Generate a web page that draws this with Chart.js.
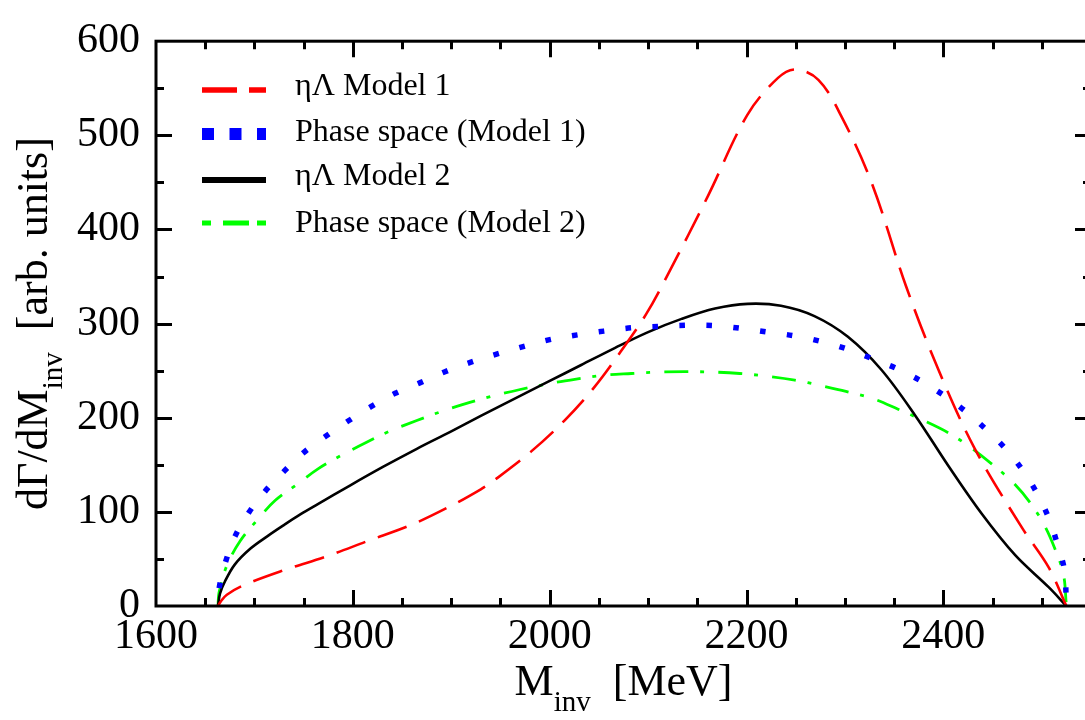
<!DOCTYPE html>
<html><head><meta charset="utf-8">
<style>
html,body{margin:0;padding:0;overflow:hidden;background:#fff;width:1085px;height:720px}
#wrap{width:1100px;height:720px;position:relative}
canvas{display:block}
</style>
<script src="https://cdn.jsdelivr.net/npm/chart.js"></script>
</head><body><div id="wrap"><canvas id="c" width="1100" height="720"></canvas></div>
<script>
// ---- data ----
const xTicks = [1600, 1800, 2000, 2200, 2400];
const yTicks = [0, 100, 200, 300, 400, 500, 600];
const xRange = [1600, 2550];
const yRange = [0, 600];
const minorStepX = 50, minorStepY = 50;
const seriesLabels = ['ηΛ Model 1', 'Phase space (Model 1)', 'ηΛ Model 2', 'Phase space (Model 2)'];
const xTitleMain = 'M', xTitleSub = 'inv', xTitleUnit = '[MeV]';
const yTitleMain = 'dΓ/dM', yTitleSub = 'inv', yTitleUnit = '[arb. units]';

const model1Mass   = [1663,1666,1672,1689,1730,1774,1815,1859,1899,1930,1943,1981,2015,2045,2072,2098,2120,2161,2201,2232,2250,2273,2296,2327,2362,2395,2432,2480,2507,2525];
const model1Values = [0,5,12,22,38,53,69,86,106,124,133,164,197,232,270,310,352,436,522,561,570,559,521,450,340,251,167,83,41,0];

const phase1Mass   = [1663,1664.5,1671,1680.5,1694.5,1711,1730,1750,1772,1796,1818,1843,1868,1893,1920,1946,1973,2000,2028,2055,2083,2111,2139,2166,2194,2221,2249,2276,2303,2328,2353,2379,2403,2424,2445,2465,2482,2496,2508,2516,2523,2525];
const phase1Values = [0,21,48,74.5,99.6,122,143,163,180,197,211.5,226,237,248.6,259,267.5,275.6,283,288,292,295.5,297,298.3,298,295,291,287,281,272.7,262.6,252,238,222,205.6,186,165,142,118,91,65,38,0];

const model2Mass   = [1663,1665,1670,1680,1696,1713,1730,1747,1764,1797,1831,1865,1899,1930,1964,1998,2032,2066,2100,2134,2168,2201,2235,2269,2303,2337,2371,2405,2439,2473,2507,2525];
const model2Values = [0,13,26,44,61,74,86,97.5,108,128,148,167,185,202,220,238,256,274,291,305,316,321,319,308,286,251,203,149,98,54,20,0];

const phase2Mass   = [1663,1664,1672,1685.5,1702.5,1721,1743,1765,1790,1814,1838,1865,1891,1918,1942,1970,1998,2027,2054,2083,2110,2137,2166,2193,2222,2249,2276,2301,2329,2354,2380,2405,2427,2449,2470,2488,2503,2514,2522,2525];
const phase2Values = [0,14,43,69,91,112,129,146,161,174,186,197,207,216,223,230,236,241,245,247,248.5,249,248.5,247,244,240,234,228,220,209,197,184,169,151,132,110,85,59,34,0];

// ---- helpers ----
const toPts = (xs, ys) => xs.map((v, i) => ({x: v, y: ys[i]}));
const SERIF = '"Liberation Serif", "DejaVu Serif", serif';

const datasets = [
  {label: seriesLabels[0], data: toPts(model1Mass, model1Values), borderColor: '#ff0000', borderWidth: 2.6, borderDash: [31, 13]},
  {label: seriesLabels[1], data: toPts(phase1Mass, phase1Values), borderColor: '#0000ff', borderWidth: 5.5, borderDash: [5.5, 21.5], borderDashOffset: 9, borderCapStyle: 'butt'},
  {label: seriesLabels[2], data: toPts(model2Mass, model2Values), borderColor: '#000000', borderWidth: 2.6},
  {label: seriesLabels[3], data: toPts(phase2Mass, phase2Values), borderColor: '#00ff00', borderWidth: 2.8, borderDash: [24, 12, 4, 14]}
].map(d => Object.assign({pointRadius: 0, fill: false, cubicInterpolationMode: 'default', tension: 0.35}, d));

// legend sample styles (gnuplot-like key)
const legendStyles = [
  {color: '#ff0000', width: 5.5, dash: [35, 12], cap: 'butt'},
  {color: '#0000ff', width: 12, dash: [12, 15.5], cap: 'butt'},
  {color: '#000000', width: 6, dash: [], cap: 'butt'},
  {color: '#00ff00', width: 5, dash: [9, 12, 26, 8], cap: 'butt'}
];

const framePlugin = {
  id: 'frame',
  afterDraw(chart) {
    const {ctx, chartArea: a, scales: {x, y}} = chart;
    ctx.save();
    ctx.strokeStyle = '#000';
    ctx.lineWidth = 3;
    ctx.setLineDash([]);
    ctx.strokeRect(a.left, a.top, a.right - a.left, a.bottom - a.top);
    ctx.beginPath();
    for (let v = xRange[0] + minorStepX; v < xRange[1]; v += minorStepX) {
      const px = Math.round(x.getPixelForValue(v)) + 0.5;
      const len = xTicks.includes(v) ? 16 : 8;
      ctx.moveTo(px, a.bottom); ctx.lineTo(px, a.bottom - len);
      ctx.moveTo(px, a.top); ctx.lineTo(px, a.top + len);
    }
    for (let v = yRange[0] + minorStepY; v < yRange[1]; v += minorStepY) {
      const py = Math.round(y.getPixelForValue(v)) + 0.5;
      const len = yTicks.includes(v) ? 16 : 8;
      ctx.moveTo(a.left, py); ctx.lineTo(a.left + len, py);
      ctx.moveTo(a.right, py); ctx.lineTo(a.right - len, py);
    }
    ctx.stroke();

    // key
    const rowsY = [90, 134, 180, 223];
    const baseY = [95, 140.5, 185, 231.5];
    const x0 = 202, x1 = 266, tx = 295;
    chart.data.datasets.forEach((ds, i) => {
      const st = legendStyles[i];
      ctx.beginPath();
      ctx.strokeStyle = st.color;
      ctx.lineWidth = st.width;
      ctx.lineCap = st.cap;
      ctx.setLineDash(st.dash);
      ctx.lineDashOffset = 0;
      ctx.moveTo(x0, rowsY[i]); ctx.lineTo(x1, rowsY[i]);
      ctx.stroke();
      ctx.setLineDash([]);
      ctx.fillStyle = '#000';
      ctx.font = '32px ' + SERIF;
      ctx.textAlign = 'left';
      ctx.textBaseline = 'alphabetic';
      ctx.fillText(ds.label, tx, baseY[i]);
    });

    // axis titles
    const mainFont = '44px ' + SERIF, subFont = '29px ' + SERIF;
    const drawTitle = (main, sub, unit, cx, baseline, subShift, gap) => {
      ctx.font = mainFont; const w1 = ctx.measureText(main).width;
      const w3 = ctx.measureText(unit).width;
      ctx.font = subFont; const w2 = ctx.measureText(sub).width;
      const total = w1 + w2 + gap + w3;
      let sx = cx - total / 2;
      ctx.textAlign = 'left'; ctx.textBaseline = 'alphabetic'; ctx.fillStyle = '#000';
      ctx.font = mainFont; ctx.fillText(main, sx, baseline); sx += w1;
      ctx.font = subFont; ctx.fillText(sub, sx, baseline + subShift); sx += w2 + gap;
      ctx.font = mainFont; ctx.fillText(unit, sx, baseline);
    };
    drawTitle(xTitleMain, xTitleSub, xTitleUnit, (a.left + a.right) / 2, 695, 16, 22);
    ctx.save();
    ctx.translate(47, (a.top + a.bottom) / 2);
    ctx.rotate(-Math.PI / 2);
    drawTitle(yTitleMain, yTitleSub, yTitleUnit, 0, 0, 15, 22);
    ctx.restore();
    ctx.restore();
  }
};

const tickFont = {family: SERIF, size: 42};

new Chart(document.getElementById('c'), {
  type: 'line',
  data: {datasets},
  options: {
    responsive: false,
    animation: false,
    events: [],
    devicePixelRatio: 1,
    layout: {padding: {top: 34, right: 9, left: 0, bottom: 0}},
    plugins: {legend: {display: false}, tooltip: {enabled: false}},
    scales: {
      x: {
        type: 'linear', min: xRange[0], max: xRange[1],
        afterBuildTicks: s => { s.ticks = xTicks.map(v => ({value: v})); },
        afterFit: s => { s.height = 114; },
        ticks: {autoSkip: false, maxRotation: 0, padding: 6, color: '#000', font: tickFont, callback: v => String(v)},
        grid: {display: false, drawTicks: false},
        border: {display: false}
      },
      y: {
        type: 'linear', min: yRange[0], max: yRange[1],
        afterBuildTicks: s => { s.ticks = yTicks.map(v => ({value: v})); },
        afterFit: s => { s.width = 156; },
        ticks: {autoSkip: false, padding: 16, color: '#000', font: tickFont, callback: v => String(v)},
        grid: {display: false, drawTicks: false},
        border: {display: false}
      }
    }
  },
  plugins: [framePlugin]
});
</script>
</body></html>
